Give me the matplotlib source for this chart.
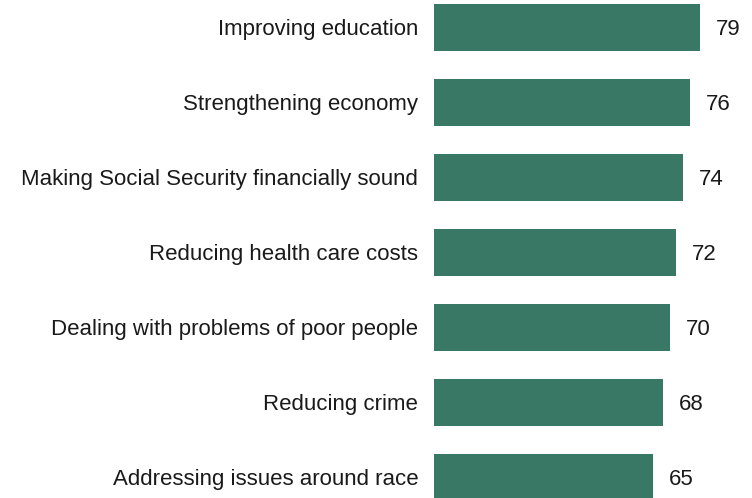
from matplotlib import pyplot as plt

categories = ['Improving education', 'Strengthening economy',
              'Making Social Security financially sound', 'Reducing health care costs',
              'Dealing with problems of poor people', 'Reducing crime',
              'Addressing issues around race']
values = [79, 76, 74, 72, 70, 68, 65]

plt.rcParams['font.family'] = ['Liberation Sans', 'DejaVu Sans']

fig = plt.figure(figsize=(7.52, 4.98), dpi=100)
# axes placed so bars start at x=434px
ax = fig.add_axes([434 / 752, 0, 303 / 752, 1])

pos = list(range(len(categories)))
ax.barh(pos, values, height=0.627, color='#3a7866')

for p, v, c in zip(pos, values, categories):
    ax.text(v + 4.7, p + 0.02, str(v), va='center', ha='left', fontsize=16, color='#1a1a1a')
    ax.text(-4.7, p + 0.02, c, va='center', ha='right', fontsize=16, color='#1a1a1a')

ax.set_xlim(0, 90)
ax.set_ylim(6.267, -0.373)
ax.axis('off')

fig.savefig('out.png', dpi=100)
